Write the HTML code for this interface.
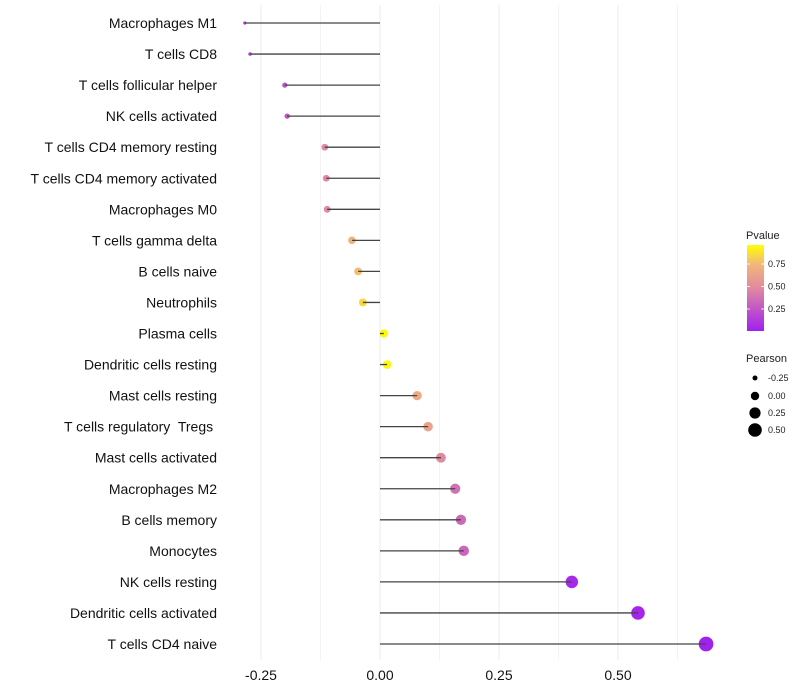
<!DOCTYPE html>
<html><head><meta charset="utf-8"><style>
body{margin:0;background:#fff;}
svg{display:block;font-family:"Liberation Sans",sans-serif;}
text{white-space:pre;}
</style></head><body>
<svg id="chart" width="800" height="700">
<defs><linearGradient id="pgrad" x1="0" y1="1" x2="0" y2="0">
<stop offset="0" stop-color="#A020F0"/><stop offset="0.5" stop-color="#E08AA0"/><stop offset="0.78" stop-color="#F2B878"/><stop offset="1" stop-color="#FFFF00"/></linearGradient></defs>
<g id="grid"></g><g id="marks"></g><g id="labels"></g><g id="legend"></g>
</svg>
<script>
const categories=["Macrophages M1","T cells CD8","T cells follicular helper","NK cells activated","T cells CD4 memory resting","T cells CD4 memory activated","Macrophages M0","T cells gamma delta","B cells naive","Neutrophils","Plasma cells","Dendritic cells resting","Mast cells resting","T cells regulatory  Tregs ","Mast cells activated","Macrophages M2","B cells memory","Monocytes","NK cells resting","Dendritic cells activated","T cells CD4 naive"];
const pearson=[-0.284,-0.273,-0.200,-0.195,-0.116,-0.113,-0.111,-0.059,-0.046,-0.036,0.008,0.015,0.078,0.101,0.128,0.158,0.170,0.176,0.403,0.542,0.685];
const pvalues=[0.12,0.15,0.25,0.25,0.5,0.5,0.5,0.75,0.8,0.88,0.98,0.98,0.7,0.65,0.5,0.38,0.35,0.33,0.05,0.03,0.01];
const xTicks=[-0.25,0,0.25,0.5];
const xTickLabels=["-0.25","0.00","0.25","0.50"];
const NS="http://www.w3.org/2000/svg";
function xs(v){return 380+v*476;}
function ys(i){return 23+i*31.05;}
function rs(v){return Math.sqrt(Math.max(2.5,17.6+53*v));}
function lerp(a,b,t){return a.map((x,i)=>Math.round(x+(b[i]-x)*t));}
function pcol(p){const s=[[0,[160,32,240]],[0.5,[224,138,160]],[0.78,[242,184,120]],[1,[255,255,0]]];
 for(let i=0;i<s.length-1;i++){if(p<=s[i+1][0]){const t=(p-s[i][0])/(s[i+1][0]-s[i][0]);const c=lerp(s[i][1],s[i+1][1],t);return `rgb(${c})`;}}return "rgb(255,255,0)";}
function mk(tag,attrs,parent,text){const e=document.createElementNS(NS,tag);for(const k in attrs)e.setAttribute(k,attrs[k]);if(text!==undefined)e.textContent=text;parent.appendChild(e);return e;}
const grid=document.getElementById('grid'),marks=document.getElementById('marks'),labels=document.getElementById('labels'),legend=document.getElementById('legend');
for(let k=-2;k<=5;k++){const v=k*0.125;const l=mk('line',{x1:xs(v),x2:xs(v),y1:5,y2:660,stroke:k%2==0?'#ebebeb':'#f3f3f3','stroke-width':1},grid);

}
xTicks.forEach((v,i)=>{const t=mk('text',{x:xs(v),y:680,'text-anchor':'middle','font-size':14,fill:'#111'},labels,xTickLabels[i]);

});
categories.forEach((c,i)=>{const y=ys(i);
 const t=mk('text',{x:217,y:y+5,'text-anchor':'end','font-size':14,fill:'#111'},labels,c);
 
 
 const d=mk('circle',{cx:xs(pearson[i]),cy:y,r:rs(pearson[i]),fill:pcol(pvalues[i])},marks);
 
 
 const s=mk('line',{x1:xs(0),x2:xs(pearson[i]),y1:y,y2:y,stroke:'#444','stroke-width':1.3},marks);
 
 
});
let g=mk('text',{x:746,y:239,'font-size':11,fill:'#222'},legend,'Pvalue');


g=mk('rect',{x:747,y:245,width:17,height:86,fill:'url(#pgrad)'},legend);


[[0.75,264],[0.5,286.5],[0.25,309]].forEach(([v,y])=>{
 mk('line',{x1:747,x2:750,y1:y,y2:y,stroke:'#fff','stroke-width':0.8},legend);
 mk('line',{x1:761,x2:764,y1:y,y2:y,stroke:'#fff','stroke-width':0.8},legend);
 const t=mk('text',{x:768,y:y+3,'font-size':9,fill:'#222'},legend,v.toFixed(2));
 
 });
g=mk('text',{x:746,y:362,'font-size':11,fill:'#222'},legend,'Pearson');


[[-0.25,378],[0,396],[0.25,413],[0.5,430]].forEach(([v,y],i)=>{
 const c=mk('circle',{cx:755,cy:y,r:[2.5,4.2,5.6,6.8][i],fill:'#000'},legend);
 
 
 const t=mk('text',{x:768,y:y+3,'font-size':9,fill:'#222'},legend,v.toFixed(2));
 
 });
</script>
</body></html>
